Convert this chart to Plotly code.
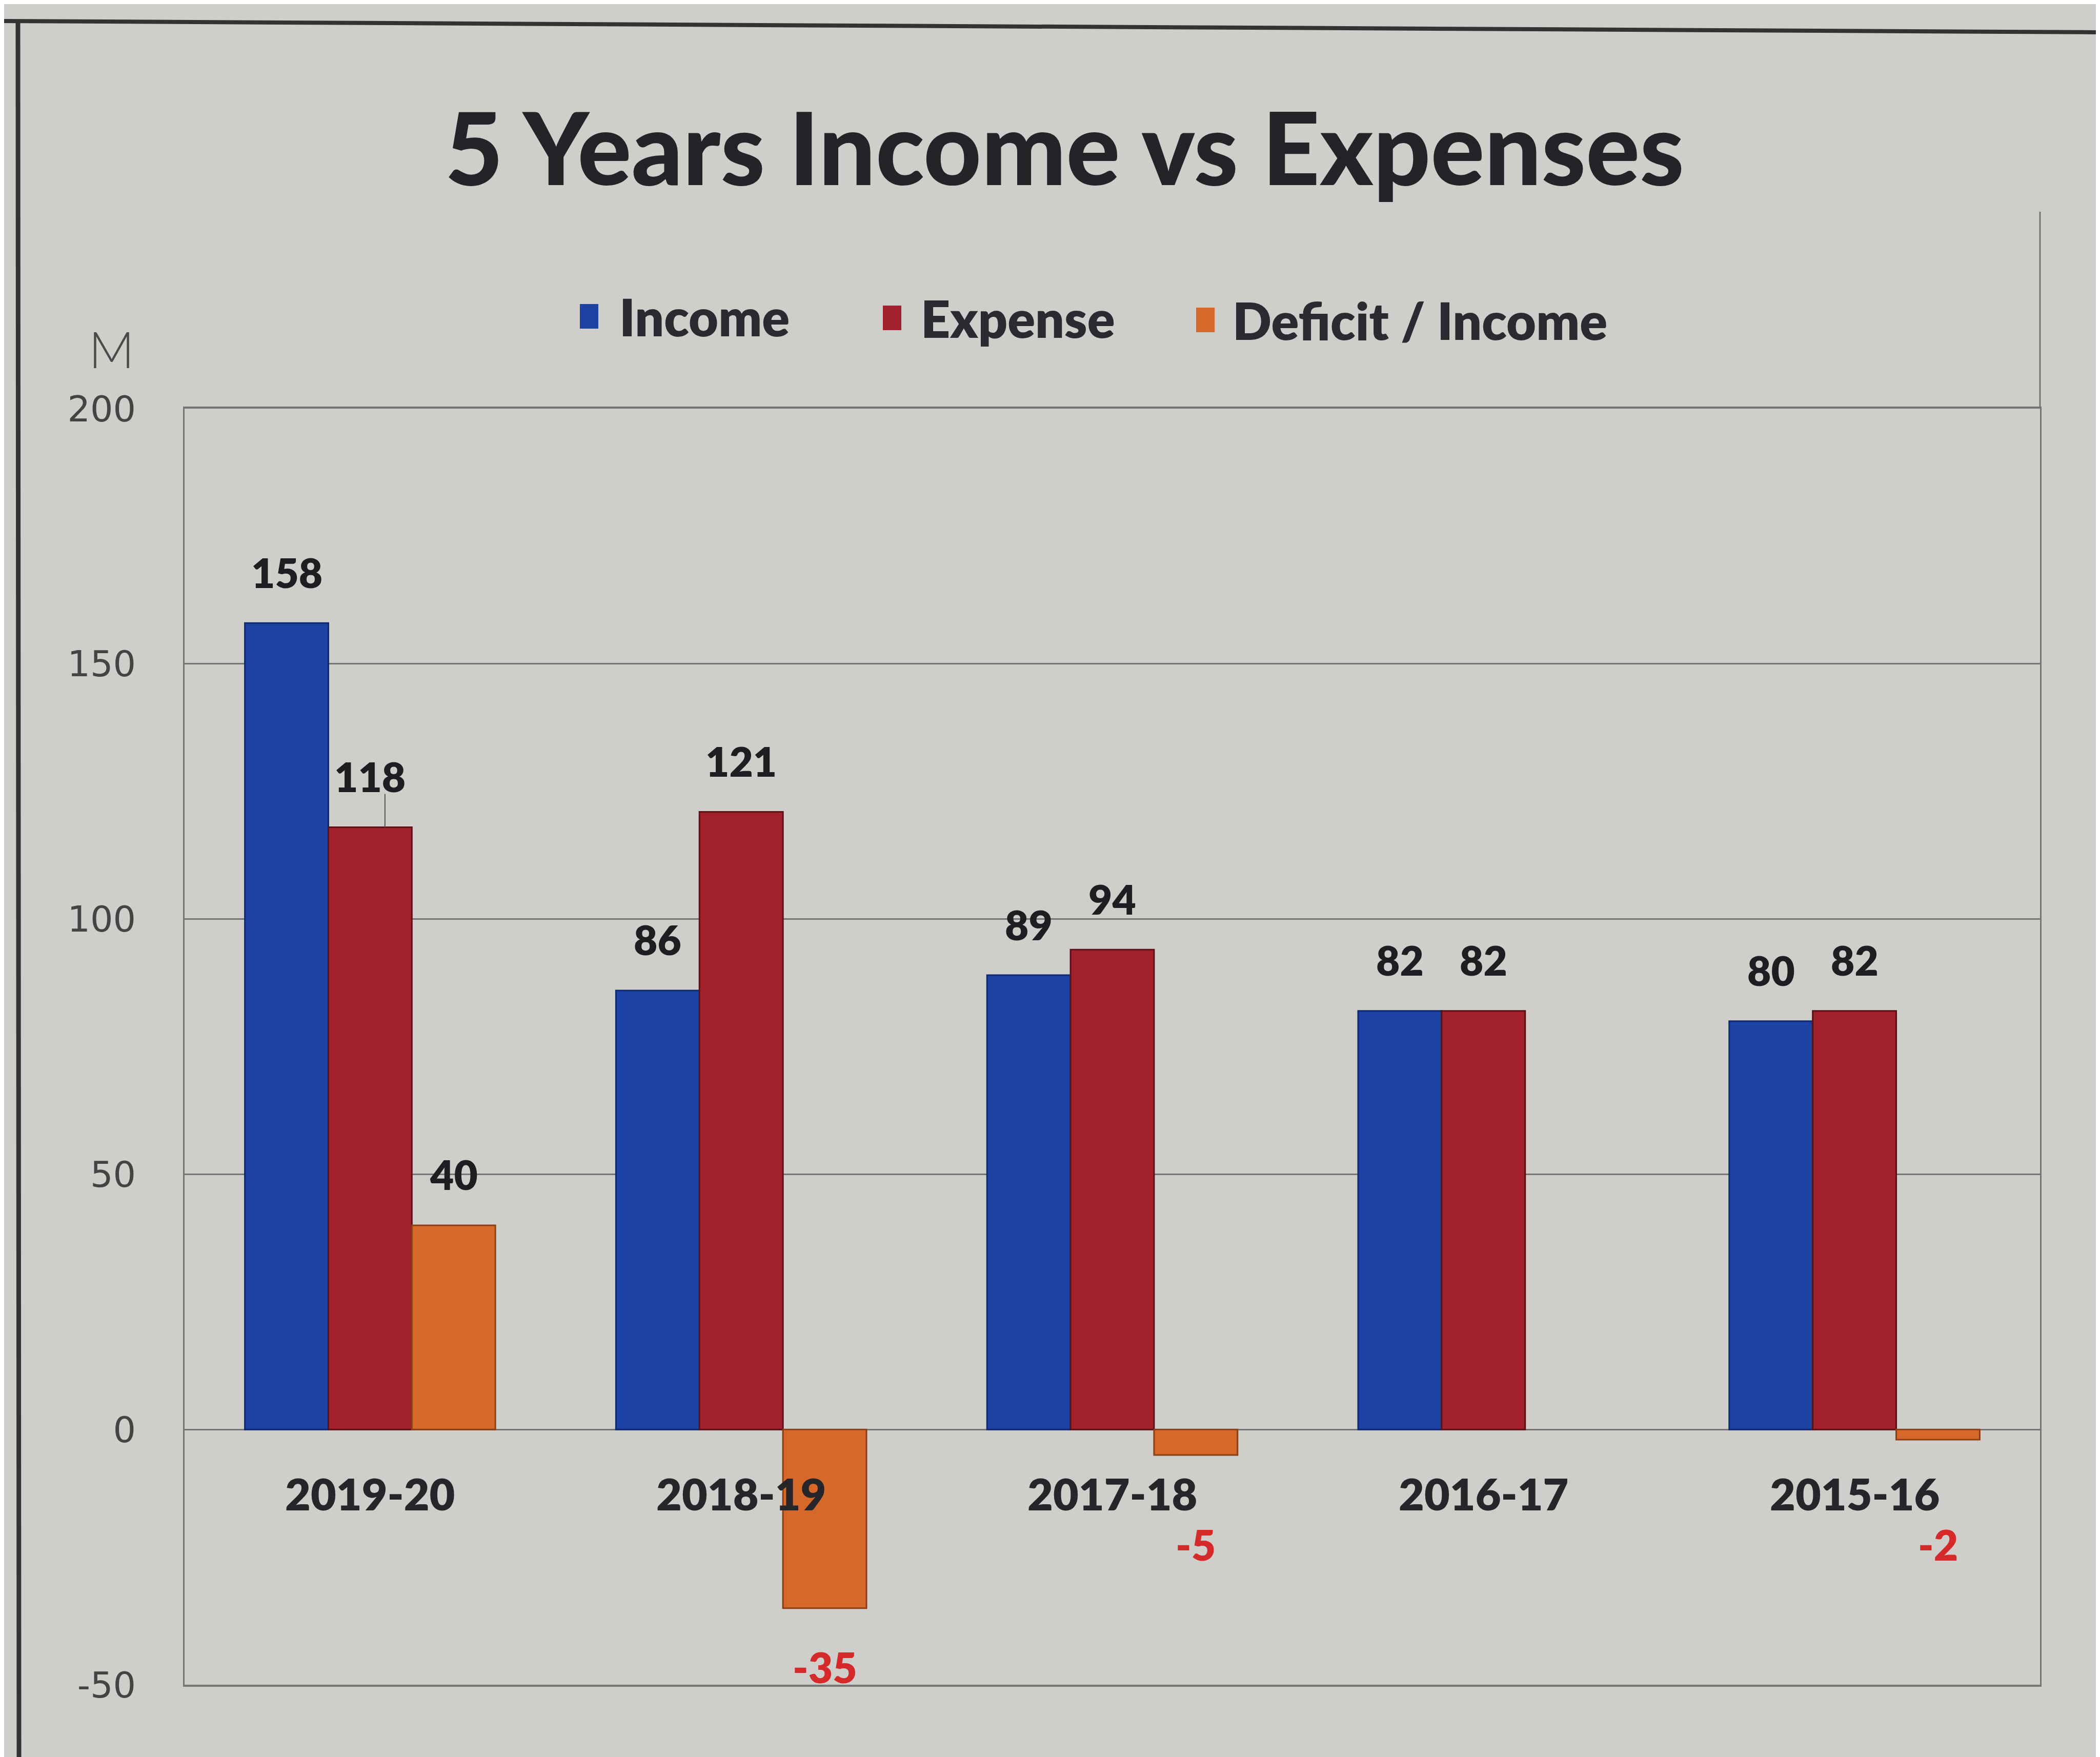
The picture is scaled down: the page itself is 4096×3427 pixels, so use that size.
import plotly.graph_objects as go

# ---------------- data ----------------
years = ["2019-20", "2018-19", "2017-18", "2016-17", "2015-16"]
income = [158, 86, 89, 82, 80]
expense = [118, 121, 94, 82, 82]
deficit = [40, -35, -5, 0, -2]
series_names = ["Income", "Expense", "Deficit / Income"]
y_ticks = [-50, 0, 50, 100, 150, 200]
y_tick_text = ["-50", "0", "50", "100", "150", "200"]

# ---------------- layout geometry (output px) ----------------
W, H = 4096, 3427
ML, MR, MT, MB = 352, 125, 789, 149
PW, PH = W - ML - MR, H - MT - MB


def px(xp):
    return (xp - ML) / PW


def py(yp):
    return 1 - (yp - MT) / PH


BLUE = "#1c42a4"
RED = "#a3212c"
ORANGE = "#d6692a"
BG = "#cfceca"
GRID = "#757575"

BARGAP = 0.325
nser = 3
bw = (1 - BARGAP) / nser
xs = list(range(len(years)))

fig = go.Figure()
for vals, name, col, edge in [
    (income, series_names[0], BLUE, "#0f2a70"),
    (expense, series_names[1], RED, "#5e1016"),
    (deficit, series_names[2], ORANGE, "#8a3f14"),
]:
    fig.add_trace(go.Bar(
        x=xs, y=vals, name=name,
        marker=dict(color=col,
                    line=dict(color=edge, width=[3 if v != 0 else 0 for v in vals])),
        showlegend=False,
    ))

annotations = []
label_font = dict(family="Lato", size=80, color="#1e1e22", weight=800)

# value labels above income / expense / positive deficit
for k, vals in enumerate([income, expense, deficit]):
    for i, v in enumerate(vals):
        xc = i + (k - 1) * bw
        if v > 0:
            annotations.append(dict(
                x=xc, y=v + 10, xref="x", yref="y", text=str(v),
                showarrow=False, yanchor="middle", xanchor="center",
                font=label_font))
        elif v < 0:
            annotations.append(dict(
                x=xc, y=min(v, -11) - 11.5, xref="x", yref="y", text=str(v),
                showarrow=False, yanchor="middle", xanchor="center",
                font=dict(family="Lato", size=82, color="#d42a2a", weight=800)))

# category labels just below the zero line
for i, yr in enumerate(years):
    annotations.append(dict(
        x=i, y=-12.5, xref="x", yref="y", text=yr, showarrow=False,
        yanchor="middle", xanchor="center",
        font=dict(family="Lato", size=86, color="#26262a", weight=800)))

# unit label
annotations.append(dict(
    x=px(209), y=py(672), xref="paper", yref="paper", text="M",
    showarrow=False, xanchor="center", yanchor="middle",
    font=dict(family="Lato", size=98, color="#4a4a4a", weight=300)))

# manual legend
shapes = []
legend_items = [
    (series_names[0], BLUE, 1141, 1198, 609),
    (series_names[1], RED, 1732, 1786, 612),
    (series_names[2], ORANGE, 2343, 2394, 616),
]
for name, col, sx, tx, ly in legend_items:
    shapes.append(dict(
        type="rect", xref="paper", yref="paper",
        x0=px(sx - 18), x1=px(sx + 18), y0=py(ly + 24), y1=py(ly - 24),
        fillcolor=col, line=dict(width=0), layer="above"))
    annotations.append(dict(
        x=px(tx), y=py(ly), xref="paper", yref="paper", text=name,
        showarrow=False, xanchor="left", yanchor="middle",
        font=dict(family="Lato", size=100, color="#2a2a30", weight=800)))

# leader line for the 118 label
shapes.append(dict(type="line", xref="x", yref="y",
                   x0=0.04, x1=0.04, y0=118, y1=124.5,
                   line=dict(color="#555555", width=2)))

# decorative photo frame lines
shapes.append(dict(type="line", xref="paper", yref="paper",
                   x0=px(27), x1=px(29), y0=py(30), y1=py(H),
                   line=dict(color="#333333", width=9)))
shapes.append(dict(type="line", xref="paper", yref="paper",
                   x0=px(0), x1=px(W), y0=py(33), y1=py(55),
                   line=dict(color="#333333", width=8)))
shapes.append(dict(type="line", xref="paper", yref="paper",
                   x0=1, x1=1, y0=1, y1=py(405),
                   line=dict(color=GRID, width=3)))

fig.update_layout(
    width=W, height=H,
    margin=dict(l=ML, r=MR, t=MT, b=MB),
    paper_bgcolor=BG, plot_bgcolor=BG,
    barmode="group", bargap=BARGAP, bargroupgap=0,
    title=dict(
        text="5 Years Income vs Expenses",
        x=0.505, xref="container", xanchor="center",
        y=1 - 284 / H, yref="container", yanchor="middle",
        font=dict(family="Lato", size=196, color="#232328", weight=900)),
    xaxis=dict(range=[-0.5, len(years) - 0.5], showticklabels=False,
               showgrid=False, zeroline=False, showline=True, mirror=True,
               linecolor=GRID, linewidth=4, ticks=""),
    yaxis=dict(range=[-50, 200], tickvals=y_ticks, ticktext=y_tick_text,
               showgrid=True, gridcolor=GRID, gridwidth=3, zeroline=True,
               zerolinecolor=GRID, zerolinewidth=3,
               showline=True, mirror=True, linecolor=GRID, linewidth=3,
               ticks="", ticklabelstandoff=78,
               tickfont=dict(family="DejaVu Sans", size=70, color="#444444")),
    annotations=annotations,
    shapes=shapes,
    showlegend=False,
)

fig.write_html("out.html")
